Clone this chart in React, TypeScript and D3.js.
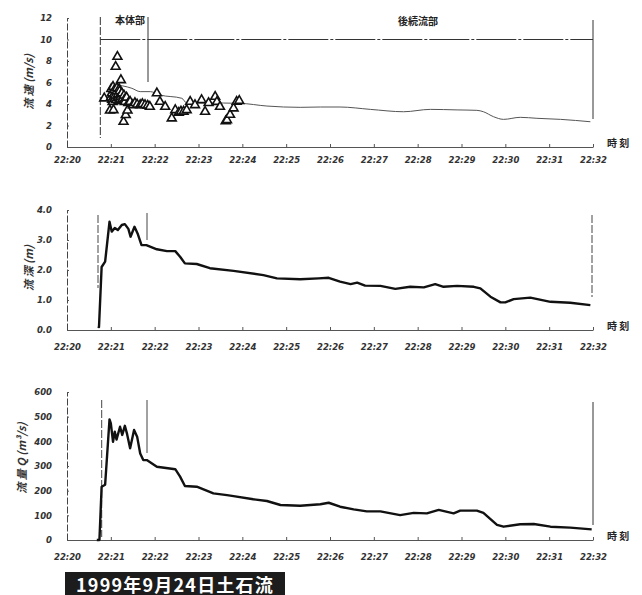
import React, { useEffect, useRef } from "react";
import * as d3 from "d3";

// ---- data (time in minutes after 22:20) ----
const timeLabels = ["22:20","22:21","22:22","22:23","22:24","22:25","22:26","22:27","22:28","22:29","22:30","22:31","22:32"];
const velTicks = [0, 2, 4, 6, 8, 10, 12];
const depthTicks = [0, 1, 2, 3, 4];
const qTicks = [0, 100, 200, 300, 400, 500, 600];

// velocity thin line
const velLineT = [1.0, 1.06, 1.48, 1.67, 1.9, 2.12, 2.62, 2.73, 3.2, 3.95, 4.56, 5.32, 5.78, 6.23, 6.92, 7.68, 8.29, 8.9, 9.35, 9.5, 9.73, 9.96, 10.34, 10.72, 11.26, 11.94];
const velLineV = [5.5, 5.77, 5.46, 5.15, 5.15, 4.84, 4.53, 4.1, 4.1, 4.06, 3.81, 3.69, 3.72, 3.72, 3.5, 3.28, 3.5, 3.45, 3.41, 3.28, 2.82, 2.57, 2.76, 2.67, 2.57, 2.35];

// velocity measured points (triangles)
const velPtT = [0.85, 0.98, 1.0, 1.01, 1.02, 1.03, 1.04, 1.05, 1.06, 1.07, 1.08, 1.09, 1.1, 1.11, 1.12, 1.13, 1.14, 1.15, 1.16, 1.17, 1.18, 1.19, 1.2, 1.21, 1.22, 1.23, 1.24, 1.25, 1.26, 1.27, 1.29, 1.3, 1.31, 1.32, 1.34, 1.36, 1.38, 1.4, 1.44, 1.5, 1.55, 1.6, 1.67, 1.72, 1.78, 1.84, 1.89, 2.05, 2.12, 2.24, 2.39, 2.47, 2.55, 2.6, 2.66, 2.73, 2.81, 2.92, 3.07, 3.15, 3.23, 3.38, 3.42, 3.49, 3.62, 3.65, 3.72, 3.8, 3.87, 3.93];
const velPtV = [4.53, 3.4, 4.6, 5.4, 5.0, 4.4, 4.2, 5.6, 3.44, 4.9, 5.3, 4.5, 4.8, 7.47, 4.4, 5.2, 5.5, 8.4, 4.9, 4.6, 4.3, 5.4, 5.2, 4.4, 4.7, 6.23, 4.9, 5.0, 4.3, 4.5, 2.35, 4.8, 4.4, 4.2, 2.98, 4.6, 3.4, 4.1, 4.21, 3.9, 4.1, 3.95, 3.9, 4.0, 3.9, 3.85, 3.75, 5.0, 4.21, 3.75, 2.67, 3.44, 3.2, 3.3, 3.3, 3.44, 4.21, 3.9, 4.37, 3.28, 4.1, 4.68, 4.2, 3.75, 2.4, 2.51, 3.0, 3.6, 4.21, 4.3];

// flow depth (m)
const depthT = [0.7, 0.73, 0.79, 0.87, 0.97, 1.02, 1.09, 1.16, 1.25, 1.32, 1.4, 1.45, 1.54, 1.61, 1.7, 1.81, 2.05, 2.28, 2.47, 2.58, 2.69, 2.96, 3.26, 3.8, 4.48, 4.79, 5.32, 5.74, 5.97, 6.23, 6.47, 6.62, 6.8, 7.15, 7.49, 7.83, 8.14, 8.4, 8.59, 8.9, 9.28, 9.43, 9.66, 9.89, 10.0, 10.19, 10.57, 11.03, 11.48, 11.94];
const depthV = [0.11, 0.1, 2.1, 2.28, 3.61, 3.28, 3.4, 3.33, 3.5, 3.53, 3.37, 3.11, 3.44, 3.22, 2.83, 2.83, 2.69, 2.63, 2.63, 2.44, 2.22, 2.2, 2.06, 1.97, 1.83, 1.72, 1.69, 1.72, 1.74, 1.61, 1.53, 1.58, 1.48, 1.47, 1.37, 1.44, 1.42, 1.53, 1.44, 1.47, 1.44, 1.39, 1.11, 0.92, 0.92, 1.03, 1.08, 0.94, 0.91, 0.83];

// discharge Q (m3/s)
const qT = [0.68, 0.74, 0.79, 0.87, 0.97, 1.0, 1.05, 1.09, 1.13, 1.21, 1.26, 1.32, 1.37, 1.44, 1.53, 1.6, 1.67, 1.74, 1.82, 2.05, 2.47, 2.58, 2.69, 2.96, 3.34, 3.65, 3.8, 4.25, 4.56, 4.87, 5.32, 5.78, 5.97, 6.23, 6.54, 6.84, 7.15, 7.6, 7.91, 8.21, 8.48, 8.82, 8.97, 9.35, 9.5, 9.81, 9.96, 10.34, 10.65, 11.03, 11.48, 11.97];
const qV = [0, 0, 216, 224, 489, 473, 398, 439, 407, 459, 426, 463, 430, 372, 446, 419, 351, 324, 324, 297, 287, 257, 219, 216, 189, 182, 178, 165, 158, 142, 139, 145, 151, 135, 124, 116, 116, 101, 110, 108, 122, 108, 119, 119, 110, 61, 54, 64, 65, 54, 50, 43];

const title = "1999年9月24日土石流";

const W = 642, H = 595;
const FONT = "'DejaVu Sans', sans-serif";

export default function App() {
  const ref = useRef<SVGSVGElement | null>(null);

  useEffect(() => {
    const svg = d3.select(ref.current);
    svg.selectAll("*").remove();
    const x = d3.scaleLinear().domain([0, 12]).range([67, 593]);

    const panels = [
      { y: d3.scaleLinear().domain([0, 12]).range([147, 18]), ticks: velTicks, fmt: (d: number) => String(d), labelDy: 14 },
      { y: d3.scaleLinear().domain([0, 4]).range([330, 210]), ticks: depthTicks, fmt: (d: number) => d.toFixed(1), labelDy: 18 },
      { y: d3.scaleLinear().domain([0, 600]).range([540, 392]), ticks: qTicks, fmt: (d: number) => String(d), labelDy: 18 },
    ];

    panels.forEach((p) => {
      const y0 = p.y.range()[0];
      const xa = d3.axisBottom(x)
        .tickValues(d3.range(0, 13))
        .tickFormat((d: any) => timeLabels[d as number])
        .tickSize(0).tickPadding(p.labelDy - 4);
      const gx = svg.append("g").attr("transform", `translate(0,${y0})`).call(xa as any);
      gx.select(".domain").attr("stroke", "#555").attr("stroke-width", 1);
      gx.selectAll("text").attr("font-family", FONT).attr("font-size", 8.5)
        .attr("font-style", "italic").attr("font-weight", "bold").attr("fill", "#333");
      gx.selectAll(".tick").append("line").attr("y1", 0).attr("y2", -3).attr("stroke", "#555");
      const ya = d3.axisLeft(p.y).tickValues(p.ticks).tickFormat(p.fmt as any).tickSize(0).tickPadding(15);
      const gy = svg.append("g").attr("transform", `translate(67,0)`).call(ya as any);
      gy.select(".domain").attr("stroke", "#444").attr("stroke-width", 1).attr("stroke-dasharray", "7,2");
      gy.selectAll("text").attr("font-family", FONT).attr("font-size", 8.5)
        .attr("font-style", "italic").attr("font-weight", "bold").attr("fill", "#333");
      gy.selectAll(".tick").append("line").attr("x1", 0).attr("x2", 2).attr("stroke", "#555");
      svg.append("text").attr("x", 607).attr("y", y0).attr("font-family", "'Noto Sans CJK JP'")
        .attr("font-size", 10).attr("font-weight", "bold").attr("fill", "#222").text("時 刻");
    });

    // ---- top panel: velocity ----
    const yv = panels[0].y;
    svg.append("line").attr("x1", x(0.76)).attr("x2", x(0.76)).attr("y1", 17).attr("y2", 138)
      .attr("stroke", "#333").attr("stroke-dasharray", "8,2");
    svg.append("line").attr("x1", 148).attr("x2", 148).attr("y1", 17).attr("y2", 82).attr("stroke", "#333");
    svg.append("line").attr("x1", x(0.76)).attr("x2", x(12)).attr("y1", yv(10)).attr("y2", yv(10))
      .attr("stroke", "#333").attr("stroke-dasharray", "40,2,3,2");
    svg.append("line").attr("x1", x(12)).attr("x2", x(12)).attr("y1", 20).attr("y2", 119).attr("stroke", "#333");
    svg.append("text").attr("x", 115).attr("y", 24).attr("font-family", "'Noto Sans CJK JP'")
      .attr("font-size", 10).attr("font-weight", "bold").attr("fill", "#222").text("本体部");
    svg.append("text").attr("x", 398).attr("y", 25).attr("font-family", "'Noto Sans CJK JP'")
      .attr("font-size", 10).attr("font-weight", "bold").attr("fill", "#222").text("後続流部");

    const vLine = d3.line<number>().x((_, i) => x(velLineT[i])).y((d) => yv(d)).curve(d3.curveMonotoneX);
    svg.append("path").attr("d", vLine(velLineV)).attr("fill", "none").attr("stroke", "#555").attr("stroke-width", 1);

    const tri = d3.symbol().type(d3.symbolTriangle).size(34);
    svg.append("g").selectAll("path").data(velPtV).join("path")
      .attr("d", tri as any)
      .attr("transform", (d, i) => `translate(${x(velPtT[i])},${yv(d)})`)
      .attr("fill", "white").attr("stroke", "#111").attr("stroke-width", 1.6);

    // ---- middle panel: depth ----
    const yd = panels[1].y;
    svg.append("line").attr("x1", 98).attr("x2", 98).attr("y1", 215).attr("y2", 288)
      .attr("stroke", "#444").attr("stroke-dasharray", "8,2");
    svg.append("line").attr("x1", 147).attr("x2", 147).attr("y1", 213).attr("y2", 240).attr("stroke", "#444");
    svg.append("line").attr("x1", 592).attr("x2", 592).attr("y1", 215).attr("y2", 297)
      .attr("stroke", "#444").attr("stroke-dasharray", "8,2");
    const dLine = d3.line<number>().x((_, i) => x(depthT[i])).y((d) => yd(d));
    svg.append("path").attr("d", dLine(depthV)).attr("fill", "none").attr("stroke", "#111")
      .attr("stroke-width", 2.4).attr("stroke-linejoin", "round");

    // ---- bottom panel: discharge ----
    const yq = panels[2].y;
    svg.append("line").attr("x1", 101.7).attr("x2", 101.7).attr("y1", 400).attr("y2", 537)
      .attr("stroke", "#444").attr("stroke-dasharray", "8,2");
    svg.append("line").attr("x1", 147).attr("x2", 147).attr("y1", 400).attr("y2", 453).attr("stroke", "#444");
    svg.append("line").attr("x1", 593).attr("x2", 593).attr("y1", 402).attr("y2", 525).attr("stroke", "#333");
    const qLine = d3.line<number>().x((_, i) => x(qT[i])).y((d) => yq(d));
    svg.append("path").attr("d", qLine(qV)).attr("fill", "none").attr("stroke", "#111")
      .attr("stroke-width", 2.4).attr("stroke-linejoin", "round");

    // ---- y titles ----
    const ytitles = [
      { x: 28, y: 82, t: "流 速 (m/s)" },
      { x: 28, y: 268, t: "流 深 (m)" },
      { x: 21, y: 458, t: "流 量 Q (m³/s)" },
    ];
    ytitles.forEach((o) => {
      svg.append("text").attr("transform", `translate(${o.x},${o.y}) rotate(-90)`)
        .attr("text-anchor", "middle").attr("dominant-baseline", "central")
        .attr("font-family", "'Noto Sans CJK JP'").attr("font-size", 11).attr("font-weight", "bold")
        .attr("font-style", "italic").attr("fill", "#333").text(o.t);
    });

    // ---- title box ----
    svg.append("rect").attr("x", 65).attr("y", 572).attr("width", 220).attr("height", 23).attr("fill", "#1c1c1c");
    svg.append("text").attr("x", 175).attr("y", 583.5).attr("text-anchor", "middle").attr("dominant-baseline", "central")
      .attr("font-family", "'Noto Sans CJK JP'").attr("font-size", 18).attr("font-weight", "bold")
      .attr("letter-spacing", 1.2).attr("fill", "white").text(title);
  }, []);

  return (
    <svg ref={ref} width={W} height={H}
      style={{ position: "absolute", left: 0, top: 0, background: "white" }} />
  );
}
